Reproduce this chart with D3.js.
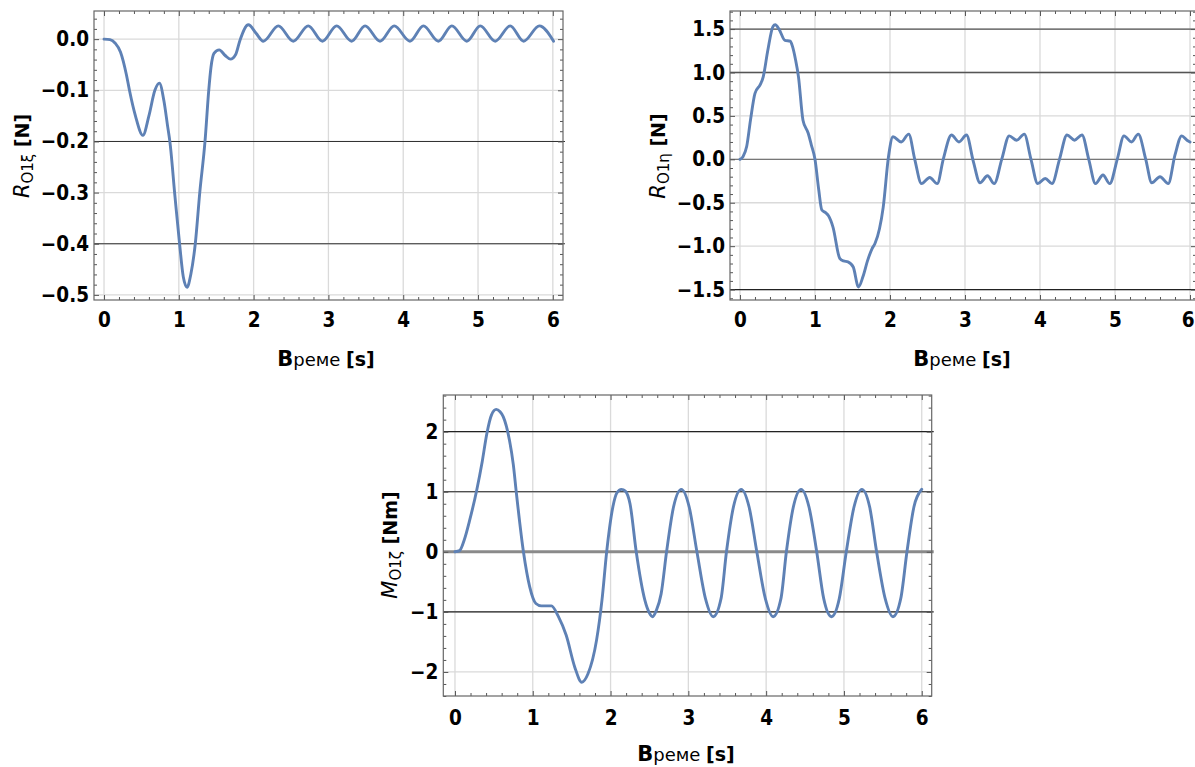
<!DOCTYPE html>
<html><head><meta charset="utf-8">
<script src="https://cdn.jsdelivr.net/npm/d3@7"></script>
<style>body{margin:0;background:#fff}svg{display:block}</style>
</head><body>
<svg id="c" width="1195" height="767"></svg>
<script>
// ---------- data ----------
const r1Time  = [0,0.08,0.15,0.22,0.3,0.34,0.42,0.52,0.6,0.68,0.74,0.8,0.85,0.88,0.95,1.01,1.06,1.11,1.16,1.22,1.28,1.35,1.40,1.43,1.47,1.54,1.62,1.69,1.76,1.82,1.93,2.03,2.13,2.33,2.53,2.73,2.92,3.11,3.31,3.49,3.69,3.88,4.09,4.27,4.47,4.65,4.85,5.03,5.23,5.43,5.61,5.82,6.01];
const r1Value = [0,-0.001,-0.008,-0.025,-0.07,-0.1,-0.15,-0.188,-0.15,-0.1,-0.086,-0.12,-0.17,-0.2,-0.31,-0.4,-0.465,-0.485,-0.46,-0.40,-0.30,-0.2,-0.1,-0.055,-0.028,-0.021,-0.032,-0.039,-0.03,-0.001,0.028,0.012,-0.004,0.026,-0.004,0.026,-0.004,0.026,-0.004,0.026,-0.004,0.026,-0.004,0.026,-0.004,0.026,-0.004,0.026,-0.004,0.026,-0.004,0.026,-0.004];

const r2Time  = [0,0.04,0.09,0.14,0.2,0.27,0.31,0.37,0.44,0.47,0.52,0.6,0.67,0.70,0.74,0.78,0.84,0.91,0.95,1.0,1.05,1.09,1.15,1.18,1.24,1.33,1.38,1.44,1.51,1.58,1.64,1.70,1.76,1.80,1.86,1.91,1.98,
  2.04,2.15,2.25,2.33,2.42,2.53,2.63,2.71,
  2.82,2.92,3.02,3.11,3.20,3.30,3.39,3.49,
  3.59,3.69,3.79,3.88,3.97,4.07,4.16,4.26,
  4.36,4.46,4.56,4.65,4.74,4.84,4.93,5.03,
  5.12,5.22,5.31,5.41,5.49,5.60,5.71,5.80,
  5.89,5.96,6.0];
const r2Value = [0,0.03,0.15,0.45,0.76,0.86,0.95,1.25,1.53,1.55,1.5,1.37,1.36,1.30,1.15,0.95,0.45,0.30,0.17,0,-0.35,-0.58,-0.62,-0.65,-0.78,-1.14,-1.17,-1.18,-1.24,-1.47,-1.35,-1.17,-1.03,-0.97,-0.8,-0.55,0.03,
  0.26,0.20,0.29,0.0,-0.28,-0.21,-0.28,0.0,
  0.28,0.20,0.28,-0.02,-0.27,-0.19,-0.28,0.0,
  0.27,0.22,0.29,0.0,-0.28,-0.22,-0.28,0.0,
  0.28,0.22,0.28,0.0,-0.28,-0.18,-0.28,0.0,
  0.27,0.20,0.29,0.0,-0.27,-0.20,-0.28,0.05,
  0.27,0.22,0.20];

const m3Time  = [0,0.06,0.12,0.19,0.28,0.35,0.41,0.47,0.53,0.58,0.62,0.70,0.75,0.79,0.88,0.96,1.04,1.11,1.18,1.24,1.33,1.43,1.54,1.63,1.71,1.82,1.89,1.95,2.03,2.08,2.14,2.19,2.25,2.33,2.44,2.50,2.54,2.59,2.65,2.72,
  2.81,2.91,3.01,3.11,3.22,3.32,3.42,3.49,
  3.58,3.68,3.78,3.88,3.99,4.09,4.19,4.26,
  4.35,4.45,4.55,4.65,4.74,4.84,4.94,5.03,
  5.13,5.23,5.33,5.42,5.53,5.63,5.73,5.81,
  5.90,6.0];
const m3Value = [0,0.02,0.2,0.53,1.03,1.5,1.97,2.28,2.37,2.33,2.25,1.86,1.45,0.97,0.0,-0.58,-0.86,-0.9,-0.9,-0.9,-1.08,-1.39,-1.92,-2.17,-2.03,-1.47,-0.8,0.0,0.75,0.98,1.04,1.01,0.8,0.0,-0.8,-1.02,-1.08,-0.97,-0.7,0.0,
  0.75,1.04,0.75,0.0,-0.78,-1.08,-0.78,0.0,
  0.75,1.04,0.75,0.0,-0.78,-1.08,-0.78,0.0,
  0.75,1.04,0.75,0.0,-0.78,-1.08,-0.78,0.0,
  0.75,1.04,0.75,0.0,-0.78,-1.08,-0.78,0.0,
  0.75,1.04];

const xTicks   = [0,1,2,3,4,5,6];
const r1YTicks = [0,-0.1,-0.2,-0.3,-0.4,-0.5];
const r2YTicks = [1.5,1.0,0.5,0,-0.5,-1.0,-1.5];
const m3YTicks = [2,1,0,-1,-2];
const r1RefLines = [-0.2,-0.4];
const r2RefLines = [1.5,1.0,0,-1.5];
const m3RefLines = [2,1,0,-1];

// ---------- drawing ----------
const W = 1195, H = 767;
const svg = d3.select('#c');
svg.append('rect').attr('width',W).attr('height',H).attr('fill','#fff');
const TICKFONT = '"DejaVu Sans Condensed","DejaVu Sans",sans-serif';
const LINECOL = '#5E81B5';

function range(a,b,s){const r=[];for(let v=a;v<=b+1e-9;v+=s)r.push(+v.toFixed(6));return r;}

function panel(c){
  const g = svg.append('g');
  const x = d3.scaleLinear().domain(c.xDomain).range([c.left,c.right]);
  const y = d3.scaleLinear().domain(c.yDomain).range([c.bottom,c.top]);
  // grid
  g.selectAll('line.vg').data(xTicks).join('line').attr('class','vg')
    .attr('x1',d=>x(d)).attr('x2',d=>x(d)).attr('y1',c.top).attr('y2',c.bottom)
    .attr('stroke','#dadada').attr('stroke-width',1.3);
  g.selectAll('line.hg').data(c.yTicks).join('line').attr('class','hg')
    .attr('x1',c.left).attr('x2',c.right).attr('y1',d=>y(d)).attr('y2',d=>y(d))
    .attr('stroke','#dadada').attr('stroke-width',1.3);
  // reference lines
  g.selectAll('line.ref').data(c.refs).join('line').attr('class','ref')
    .attr('x1',c.left).attr('x2',c.right+2).attr('y1',d=>y(d.v)).attr('y2',d=>y(d.v))
    .attr('stroke',d=>d.col).attr('stroke-width',d=>d.w);
  // curve
  const pts = c.t.map((t,i)=>[t,c.v[i]]);
  g.append('path').datum(pts)
    .attr('d',d3.line().x(d=>x(d[0])).y(d=>y(d[1])).curve(d3.curveMonotoneX))
    .attr('fill','none').attr('stroke',LINECOL).attr('stroke-width',2.9)
    .attr('stroke-linejoin','round').attr('stroke-linecap','round');
  // frame ticks (inward) on all sides
  const minorX = range(0,6,0.2).filter(v=>Math.abs(v-Math.round(v))>1e-6);
  const yMin = Math.ceil(c.yDomain[0]/c.yMinor-1e-6)*c.yMinor;
  const minorY = range(yMin,c.yDomain[1],c.yMinor).filter(v=>!c.yTicks.some(t=>Math.abs(t-v)<1e-6));
  const mk = (axisFn, scale, vals, size, tr)=>{
    const a = g.append('g').attr('transform',tr)
      .call(axisFn(scale).tickValues(vals).tickSize(size).tickFormat(''));
    a.select('.domain').remove();
    a.selectAll('line').attr('stroke','#555').attr('stroke-width',1);
  };
  mk(d3.axisBottom,x,xTicks,-5,`translate(0,${c.bottom})`);
  mk(d3.axisBottom,x,minorX,-3,`translate(0,${c.bottom})`);
  mk(d3.axisTop,x,xTicks,-5,`translate(0,${c.top})`);
  mk(d3.axisTop,x,minorX,-3,`translate(0,${c.top})`);
  mk(d3.axisLeft,y,c.yTicks,-5,`translate(${c.left},0)`);
  mk(d3.axisLeft,y,minorY,-3,`translate(${c.left},0)`);
  mk(d3.axisRight,y,c.yTicks,-5,`translate(${c.right},0)`);
  mk(d3.axisRight,y,minorY,-3,`translate(${c.right},0)`);
  // frame
  g.append('rect').attr('x',c.left).attr('y',c.top).attr('width',c.right-c.left).attr('height',c.bottom-c.top)
    .attr('fill','none').attr('stroke','#666').attr('stroke-width',1.2);
  // tick labels
  const xl = g.append('g').attr('transform',`translate(0,${c.bottom})`)
    .call(d3.axisBottom(x).tickValues(xTicks).tickSize(0).tickPadding(c.xPad).tickFormat(d3.format('d')));
  xl.select('.domain').remove();
  xl.selectAll('text').attr('font-family',TICKFONT).attr('font-weight','bold').attr('font-size',20.5).attr('fill','#000');
  // keep labels that touch the page edge fully visible
  xl.selectAll('.tick').each(function(d){
    const t = d3.select(this).select('text');
    const bb = this.getBBox();
    const gx = x(d) + bb.x + bb.width;
    if (gx > W - 1) t.attr('x', -(gx - (W - 1)));
  });
  const yl = g.append('g').attr('transform',`translate(${c.left},0)`)
    .call(d3.axisLeft(y).tickValues(c.yTicks).tickSize(0).tickPadding(5).tickFormat(c.yFmt));
  yl.select('.domain').remove();
  yl.selectAll('text').attr('font-family',TICKFONT).attr('font-weight','bold').attr('font-size',20.5).attr('fill','#000');
  // x title
  const xt = g.append('text').attr('x',c.xTitle[0]).attr('y',c.xTitle[1]).attr('text-anchor','middle')
    .attr('font-family','"DejaVu Sans",sans-serif').attr('fill','#000');
  xt.append('tspan').attr('font-weight','bold').attr('font-size',21).text('В');
  xt.append('tspan').attr('font-size',18).text('реме ');
  xt.append('tspan').attr('font-weight','bold').attr('font-size',19).text('[s]');
  // y title
  const yt = g.append('text').attr('transform',`translate(${c.yTitle[0]},${c.yTitle[1]}) rotate(-90)`)
    .attr('text-anchor','middle').attr('font-family','"DejaVu Sans",sans-serif').attr('fill','#000');
  yt.append('tspan').attr('font-style','italic').attr('font-size',21).text(c.yName[0]);
  yt.append('tspan').attr('font-size',15).attr('dy',4).text(c.yName[1]);
  yt.append('tspan').attr('font-weight','bold').attr('font-size',19).attr('dy',-4).text(' '+c.yName[2]);
}

const fmt1 = v => (v<0?'\u2212':'') + Math.abs(v).toFixed(1);
const fmt0 = v => (v<0?'\u2212':'') + Math.abs(v).toFixed(0);

panel({left:94,right:563,top:11,bottom:300,xDomain:[-0.134,6.136],yDomain:[-0.51,0.055],
  yTicks:r1YTicks,yMinor:0.02,yFmt:fmt1,t:r1Time,v:r1Value,xPad:12,
  refs:r1RefLines.map(v=>({v,col:'#333',w:1.1})),
  xTitle:[326,366],yTitle:[29,156],yName:['R','O1ξ','[N]']});

panel({left:730,right:1196,top:11,bottom:300,xDomain:[-0.133,6.08],yDomain:[-1.62,1.708],
  yTicks:r2YTicks,yMinor:0.1,yFmt:fmt1,t:r2Time,v:r2Value,xPad:12,
  refs:r2RefLines.map(v=>({v,col:v===0?'#777':(v===-1.5?'#222':'#555'),w:v===1?1.6:1.2})),
  xTitle:[962,366],yTitle:[665,156],yName:['R','O1η','[N]']});

panel({left:443.3,right:931.7,top:395,bottom:696,xDomain:[-0.150,6.128],yDomain:[-2.40,2.61],
  yTicks:m3YTicks,yMinor:0.2,yFmt:fmt0,t:m3Time,v:m3Value,xPad:14,
  refs:m3RefLines.map(v=>({v,col:v===0?'#8a8a8a':'#222',w:v===0?3:1.1})),
  xTitle:[686,761],yTitle:[397,545],yName:['M','O1ζ','[Nm]']});
</script>
</body></html>
